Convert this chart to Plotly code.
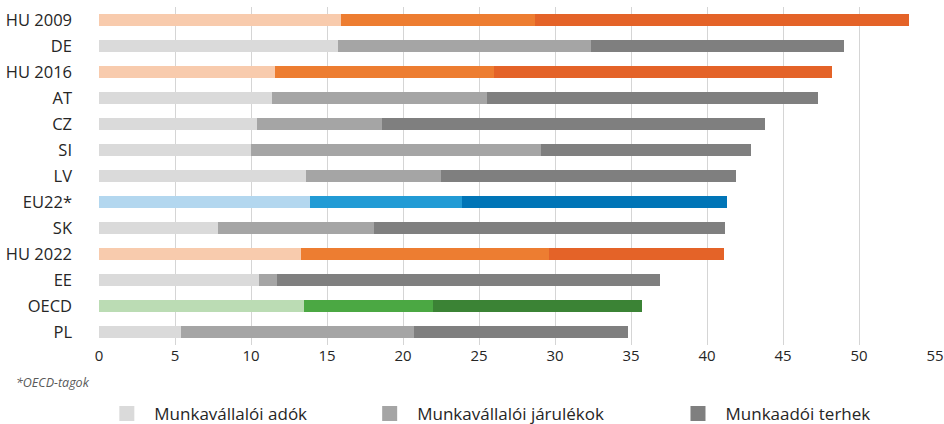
import plotly.graph_objects as go

categories = ["HU 2009", "DE", "HU 2016", "AT", "CZ", "SI", "LV", "EU22*", "SK",
              "HU 2022", "EE", "OECD", "PL"]
employee_taxes = [15.9, 15.7, 11.6, 11.4, 10.4, 10.0, 13.6, 13.9, 7.8, 13.3, 10.5, 13.5, 5.4]
employee_contrib = [12.8, 16.7, 14.4, 14.1, 8.2, 19.1, 8.9, 10.0, 10.3, 16.3, 1.2, 8.5, 15.3]
employer_charges = [24.6, 16.6, 22.2, 21.8, 25.2, 13.8, 19.4, 17.4, 23.1, 11.5, 25.2, 13.7, 14.1]
series_names = ["Munkavállalói adók", "Munkavállalói járulékok", "Munkaadói terhek"]
x_ticks = [0, 5, 10, 15, 20, 25, 30, 35, 40, 45, 50, 55]

grey = ["#DADADA", "#A5A5A5", "#7F7F7F"]
orange = ["#F8CBAD", "#ED7D31", "#E46328"]
blue = ["#B3D7EF", "#229BD5", "#0075B7"]
green = ["#BBDCB4", "#4BA843", "#3B8335"]

def palette(cat):
    if cat.startswith("HU"):
        return orange
    if cat.startswith("EU"):
        return blue
    if cat == "OECD":
        return green
    return grey

fig = go.Figure()
for i, vals in enumerate([employee_taxes, employee_contrib, employer_charges]):
    colors = [palette(c)[i] for c in categories]
    fig.add_trace(go.Bar(
        y=categories, x=vals, orientation="h", name=series_names[i],
        marker=dict(color=colors, line=dict(width=0)),
        showlegend=False,
    ))

legend_x = [0.0004, 0.3148, 0.6836]
for i, name in enumerate(series_names):
    fig.add_trace(go.Scatter(
        x=[None], y=[None], mode="markers", name=name,
        marker=dict(symbol="square", size=15, color=grey[i]),
        legend="legend" if i == 0 else f"legend{i+1}",
    ))

leg_common = dict(orientation="h", yanchor="middle", y=-0.204, xanchor="left",
                  font=dict(family="Open Sans", size=17, color="#262626"),
                  bgcolor="rgba(0,0,0,0)", itemwidth=45)

fig.update_layout(
    width=944, height=424,
    margin=dict(l=99, r=9, t=7, b=79, autoexpand=False),
    barmode="stack", bargap=0.575, hovermode=False,
    plot_bgcolor="white", paper_bgcolor="white",
    font=dict(family="Open Sans", size=15, color="#262626"),
    xaxis=dict(range=[0, 55], tickvals=x_ticks, showgrid=True, gridcolor="#D5D5D5",
               gridwidth=1, zeroline=False, showline=False, ticks="", automargin=False,
               tickfont=dict(size=15, color="#262626"), fixedrange=True),
    yaxis=dict(categoryorder="array", categoryarray=categories[::-1],
               showgrid=False, zeroline=False, ticks="", ticklabelstandoff=26,
               automargin=False, tickfont=dict(size=16.5, color="#262626"), fixedrange=True),
    legend=dict(x=legend_x[0], **leg_common),
    legend2=dict(x=legend_x[1], **leg_common),
    legend3=dict(x=legend_x[2], **leg_common),
    annotations=[dict(text="<i>*OECD-tagok</i>", xref="paper", yref="paper",
                      x=-0.102, y=-0.11, xanchor="left", yanchor="middle",
                      showarrow=False, font=dict(size=12.5, color="#595959"))],
)

fig.write_html("out.html", config={"displayModeBar": False},
               post_script="document.body.style.margin='0';document.body.style.overflow='hidden';")
